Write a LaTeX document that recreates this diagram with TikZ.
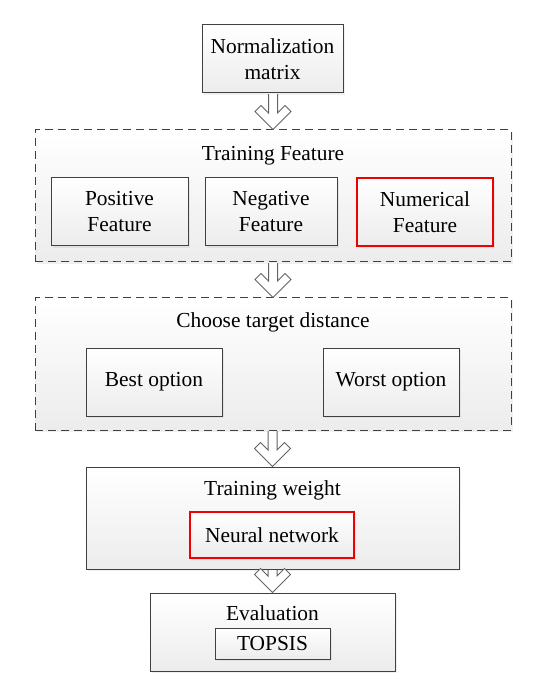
\documentclass[tikz,border=0pt]{standalone}
\usepackage{fontspec}
\setmainfont{Liberation Serif}
\usetikzlibrary{calc,shadows}

\definecolor{boxline}{RGB}{64,64,64}
\definecolor{boxbottom}{RGB}{236,236,236}
\definecolor{arrowline}{RGB}{100,100,100}
\definecolor{redline}{RGB}{240,0,0}

\newcommand\flowarrow[2]{%
  \draw[flowarrow] let \p1=(#1.south), \p2=(#2.north) in
    (\x2-2.25pt,\y1-0.3pt) -- (\x2-2.25pt,\y2+8.25pt) -- (\x2-6pt,\y2+12pt)
    -- (\x2-9pt,\y2+9pt) -- (\x2,\y2) -- (\x2+9pt,\y2+9pt)
    -- (\x2+6pt,\y2+12pt) -- (\x2+2.25pt,\y2+8.25pt) -- (\x2+2.25pt,\y1-0.3pt);}

\begin{document}
\begin{tikzpicture}[x=0.5pt, y=-0.5pt,
    every node/.style={font=\fontsize{10.7}{13}\selectfont, align=center},
    box/.style={draw=boxline, line width=0.5pt, top color=white, bottom color=boxbottom,
        drop shadow={opacity=0.12, shadow xshift=1pt, shadow yshift=-1pt},
        inner sep=0pt},
    redbox/.style={box, draw=redline, line width=0.7pt},
    group/.style={box, dash pattern=on 4pt off 2.5pt},
    flowarrow/.style={draw=arrowline, line width=0.5pt, fill=white, line join=miter}]
    \useasboundingbox (0,0) rectangle (550,699);

    % top box
    \node[box, minimum width=70.5pt, minimum height=34pt] (norm) at (272.5,59) {Normalization\\matrix};

    % training feature group
    \node[group, minimum width=238pt, minimum height=66pt] (feat) at (273,196) {};
    \node (featlabel) at (273,156) {Training Feature};
    \node[box, minimum width=68.5pt, minimum height=34pt] (pos) at (119.5,212) {Positive\\Feature};
    \node[box, minimum width=66pt, minimum height=34pt] (neg) at (271,212) {Negative\\Feature};
    \node[redbox, minimum width=68pt, minimum height=34pt] (num) at (425,212) {Numerical\\Feature};

    % target distance group
    \node[group, minimum width=238pt, minimum height=66pt] (dist) at (273,364) {};
    \node (distlabel) at (273,322) {Choose target distance};
    \node[box, minimum width=68pt, minimum height=34pt] (best) at (154,382) {Best option};
    \node[box, minimum width=68pt, minimum height=34pt] (worst) at (391,382) {Worst option};

    % weight
    \node[box, minimum width=186.5pt, minimum height=51pt] (weight) at (272.5,518) {};
    \node (weightlabel) at (272.5,490) {Training weight};
    \node[redbox, minimum width=82pt, minimum height=23pt] (nn) at (272,535) {Neural network};

    % evaluation
    \node[box, minimum width=122.5pt, minimum height=39pt] (eval) at (272.5,632) {};
    \node (evallabel) at (272.5,613) {Evaluation};
    \node[box, minimum width=57.5pt, minimum height=15.5pt] (topsis) at (272.5,643.5) {TOPSIS};

    % arrows
    \flowarrow{norm}{feat}
    \flowarrow{feat}{dist}
    \flowarrow{dist}{weight}
    \flowarrow{weight}{eval}
\end{tikzpicture}
\end{document}
